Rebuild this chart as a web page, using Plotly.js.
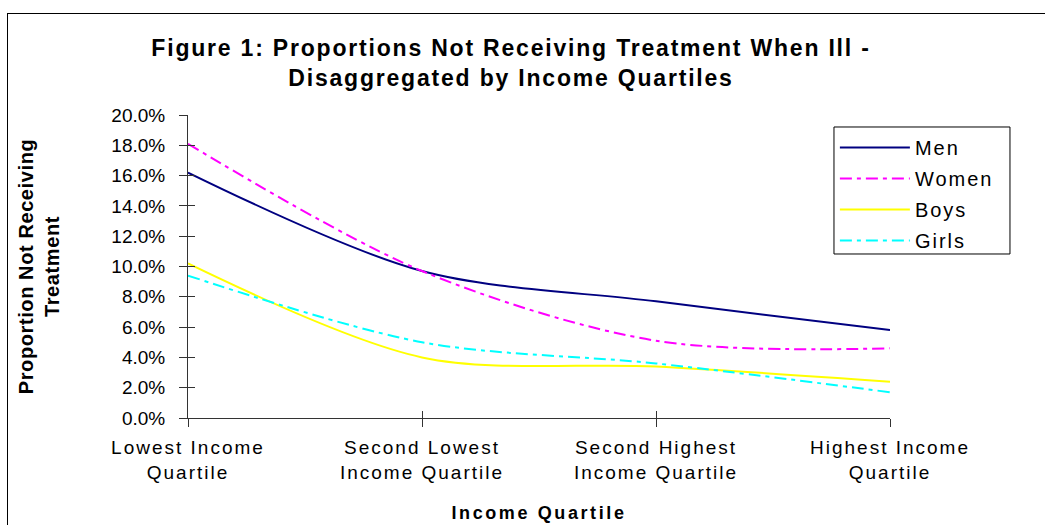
<!DOCTYPE html>
<html>
<head>
<meta charset="utf-8">
<script src="https://cdn.plot.ly/plotly-3.0.1.min.js"></script>
<style>
html,body{margin:0;padding:0;background:#fff;}
#frame{position:absolute;left:7px;top:13px;width:1100px;height:600px;border-left:1px solid #000;border-top:1px solid #000;}
#chart{position:absolute;left:0;top:0;width:1045px;height:525px;}
#chart .gtitle{letter-spacing:1.8px;}
#chart .xtick text{letter-spacing:2px;}
#chart .legendtext{letter-spacing:2px;}
#chart .legend, #chart .legend .scrollbox{clip-path:none !important;}
#chart .xtitle{letter-spacing:2.6px;}
#chart .ytitle{letter-spacing:0.6px;}
</style>
</head>
<body>
<div id="frame"></div>
<div id="chart"></div>
<script>
var categories = ["Lowest Income<br>Quartile", "Second Lowest<br>Income Quartile", "Second Highest<br>Income Quartile", "Highest Income<br>Quartile"];
var men   = [0.162, 0.097, 0.077, 0.058];
var women = [0.181, 0.097, 0.051, 0.046];
var boys  = [0.102, 0.040, 0.034, 0.024];
var girls = [0.094, 0.050, 0.036, 0.017];
var seriesNames = ["Men", "Women", "Boys", "Girls"];
var yTickVals = [0, 0.02, 0.04, 0.06, 0.08, 0.10, 0.12, 0.14, 0.16, 0.18, 0.20];

var FONT = "Liberation Sans, Arial, sans-serif";
var styles = [
  {color: "#000080", dash: "solid"},
  {color: "#FF00FF", dash: "12px,5px,4px,5px"},
  {color: "#FFFF00", dash: "solid"},
  {color: "#00FFFF", dash: "12px,5px,4px,5px"}
];
var data = [men, women, boys, girls].map(function(vals, i){
  return {
    x: categories, y: vals, name: seriesNames[i], type: "scatter", mode: "lines",
    legendgroup: "g" + i,
    line: {color: styles[i].color, dash: styles[i].dash, width: 2, shape: "spline", smoothing: 0.9}
  };
});
// invisible helper trace so the overlay tick axes render
data.push({x: [0, 3], y: [0, 0.2], xaxis: "x2", yaxis: "y2", mode: "markers",
  marker: {opacity: 0}, showlegend: false, hoverinfo: "skip"});

var layout = {
  width: 1045, height: 525,
  margin: {l: 188, r: 155, t: 115, b: 107},
  paper_bgcolor: "rgba(0,0,0,0)", plot_bgcolor: "rgba(0,0,0,0)",
  font: {family: FONT, size: 19, color: "#000"},
  title: {
    text: "<b>Figure 1: Proportions Not Receiving Treatment When Ill -<br>Disaggregated by Income Quartiles</b>",
    font: {family: FONT, size: 23, color: "#000"},
    x: 0.489, xanchor: "center", y: 0.894, yanchor: "middle"
  },
  xaxis: {
    type: "category", range: [0, 3], showgrid: false, zeroline: false,
    showline: true, linecolor: "#333", linewidth: 1,
    ticks: "outside", ticklen: 8, tickcolor: "#333", ticklabelstandoff: 4,
    tickfont: {family: FONT, size: 19},
    title: {text: "<b>Income Quartile</b>", font: {family: FONT, size: 18}, standoff: 24}
  },
  yaxis: {
    range: [0, 0.2], tickvals: yTickVals, tickformat: ".1%",
    showgrid: false, zeroline: false,
    showline: true, linecolor: "#333", linewidth: 1,
    ticks: "outside", ticklen: 8, tickcolor: "#333", ticklabelstandoff: 10,
    tickfont: {family: FONT, size: 19},
    title: {text: "<b>Proportion Not Receiving<br>Treatment</b>", font: {family: FONT, size: 20}, standoff: 46}
  },
  xaxis2: {overlaying: "x", anchor: "y", range: [0, 3], tickvals: [0, 1, 2, 3],
    showticklabels: false, ticks: "inside", ticklen: 7, tickcolor: "#333",
    showgrid: false, zeroline: false, showline: false},
  yaxis2: {overlaying: "y", anchor: "x", range: [0, 0.2], tickvals: yTickVals, side: "left",
    showticklabels: false, ticks: "inside", ticklen: 7, tickcolor: "#333",
    showgrid: false, zeroline: false, showline: false},
  shapes: [{
    type: "rect", xref: "paper", yref: "paper", layer: "above",
    x0: 0.9202, x1: 1.1709, y0: 0.5413, y1: 0.9604,
    line: {color: "#000", width: 1}, fillcolor: "rgba(0,0,0,0)"
  }],
  showlegend: true,
  legend: {
    x: 0.9215, y: 0.957, xanchor: "left", yanchor: "top",
    borderwidth: 0, bgcolor: "rgba(0,0,0,0)",
    font: {family: FONT, size: 20},
    traceorder: "grouped", tracegroupgap: 2, itemwidth: 70
  }
};
Plotly.newPlot("chart", data, layout, {displayModeBar: false, staticPlot: true});
</script>
</body>
</html>
